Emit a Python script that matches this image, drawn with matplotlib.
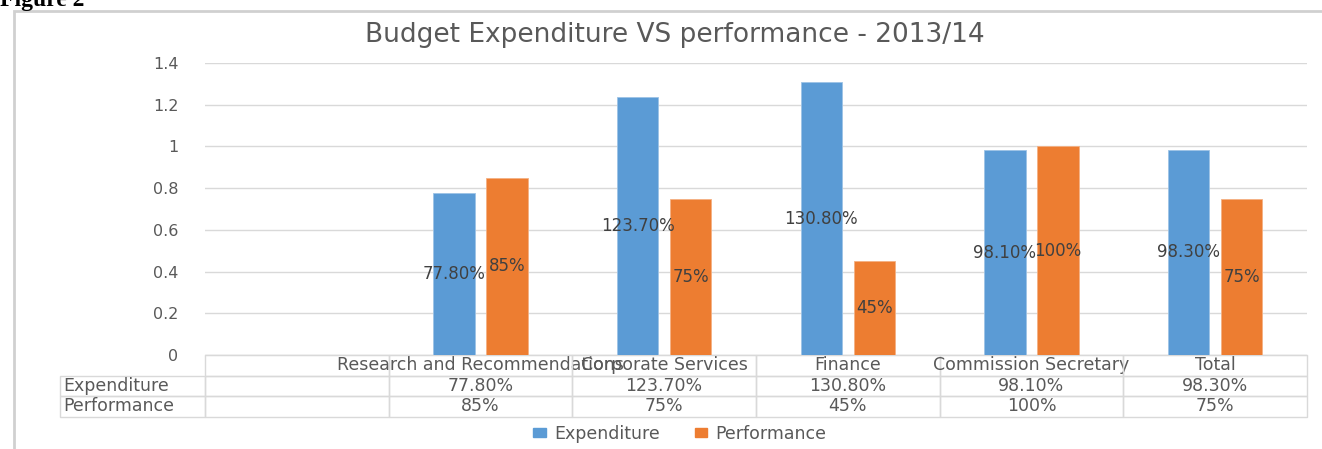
import numpy as np
import matplotlib
matplotlib.use("Agg")
import matplotlib.pyplot as plt
from matplotlib.table import Table
from matplotlib.patches import Rectangle, Patch

categories = ["", "Research and Recommendations", "Corporate Services", "Finance",
              "Commission Secretary", "Total"]
expenditure = [np.nan, 0.778, 1.237, 1.308, 0.981, 0.983]
performance = [np.nan, 0.85, 0.75, 0.45, 1.00, 0.75]
series_names = ["Expenditure", "Performance"]
exp_labels = ["", "77.80%", "123.70%", "130.80%", "98.10%", "98.30%"]
perf_labels = ["", "85%", "75%", "45%", "100%", "75%"]
yticks = [0, 0.2, 0.4, 0.6, 0.8, 1.0, 1.2, 1.4]
ytick_labels = ["0", "0.2", "0.4", "0.6", "0.8", "1", "1.2", "1.4"]
title = "Budget Expenditure VS performance - 2013/14"

BLUE = "#5B9BD5"
ORANGE = "#ED7D31"
TXT = "#595959"
GRID = "#D9D9D9"

plt.rcParams['font.family'] = ['DejaVu Sans']

W, H = 1322, 449
fig = plt.figure(figsize=(W / 100, H / 100), dpi=100)

# chart frame
fig.patches.append(Rectangle((14 / W, -0.1), 1.2, 1 - 11 / H + 0.1,
                             transform=fig.transFigure, fill=False,
                             edgecolor="#D0D0D0", linewidth=2, zorder=0))
fig.text(0.0, 1 - 6 / H, "Figure 2", family="Liberation Serif", fontweight="bold",
         fontsize=17, va="baseline", ha="left", color="black")

left, right = 205 / W, 1307 / W
bottom, top = 1 - 355 / H, 1 - 63 / H
ax = fig.add_axes([left, bottom, right - left, top - bottom])

x = np.arange(len(categories))
bw = 0.225
off = 0.145
b1 = ax.bar(x - off, expenditure, bw, color=BLUE, edgecolor="#9DC3E6", linewidth=0.6,
            label=series_names[0], zorder=3)
b2 = ax.bar(x + off, performance, bw, color=ORANGE, edgecolor="#F4B183", linewidth=0.6,
            label=series_names[1], zorder=3)
ax.bar_label(b1, labels=exp_labels, label_type="center", color="#404040", fontsize=12, zorder=5)
ax.bar_label(b2, labels=perf_labels, label_type="center", color="#404040", fontsize=12, zorder=5)

ax.set_xlim(-0.5, len(categories) - 0.5)
ax.set_ylim(0, 1.4)
ax.set_yticks(yticks)
ax.set_yticklabels(ytick_labels, color=TXT, fontsize=11.5)
ax.tick_params(axis="y", length=0, pad=19)
ax.tick_params(axis="x", length=0, labelbottom=False)
ax.grid(axis="y", color=GRID, linewidth=1, zorder=0)
for s in ["top", "right", "left"]:
    ax.spines[s].set_visible(False)
ax.spines["bottom"].set_color(GRID)
ax.set_axisbelow(True)

# data table below
ncol = len(categories)
row_h = 20.5 / (top - bottom) / H
col_w = 1.0 / ncol
lab_w = 145 / (right - left) / W
tbl = Table(ax, bbox=[0, -3 * row_h, 1, 3 * row_h])
for j, c in enumerate(categories):
    tbl.add_cell(0, j, col_w, row_h, text=c, loc="center", edgecolor=GRID, facecolor="none")
rows = [(series_names[0], exp_labels), (series_names[1], perf_labels)]
for i, (name, labs) in enumerate(rows, start=1):
    tbl.add_cell(i, -1, lab_w, row_h, text=name, loc="left", edgecolor=GRID, facecolor="none")
    for j, t in enumerate(labs):
        tbl.add_cell(i, j, col_w, row_h, text=t, loc="center", edgecolor=GRID, facecolor="none")
tbl.auto_set_font_size(False)
tbl.set_fontsize(12.5)
for cell in tbl.get_celld().values():
    cell.get_text().set_color(TXT)
    cell.set_linewidth(1)
    cell.PAD = 0.02
ax.add_table(tbl)

fig.text(675 / W, 1 - 35 / H, title, ha="center", va="center", fontsize=19, color=TXT)

handles = [Patch(color=BLUE), Patch(color=ORANGE)]
fig.legend(handles, series_names, loc="center", bbox_to_anchor=(680 / W, 1 - 434 / H),
           ncol=2, frameon=False, fontsize=12.5, labelcolor=TXT,
           handlelength=0.7, handleheight=0.45, handletextpad=0.5, columnspacing=2.0,
           borderpad=0.1)

fig.savefig("out.png", dpi=100)
